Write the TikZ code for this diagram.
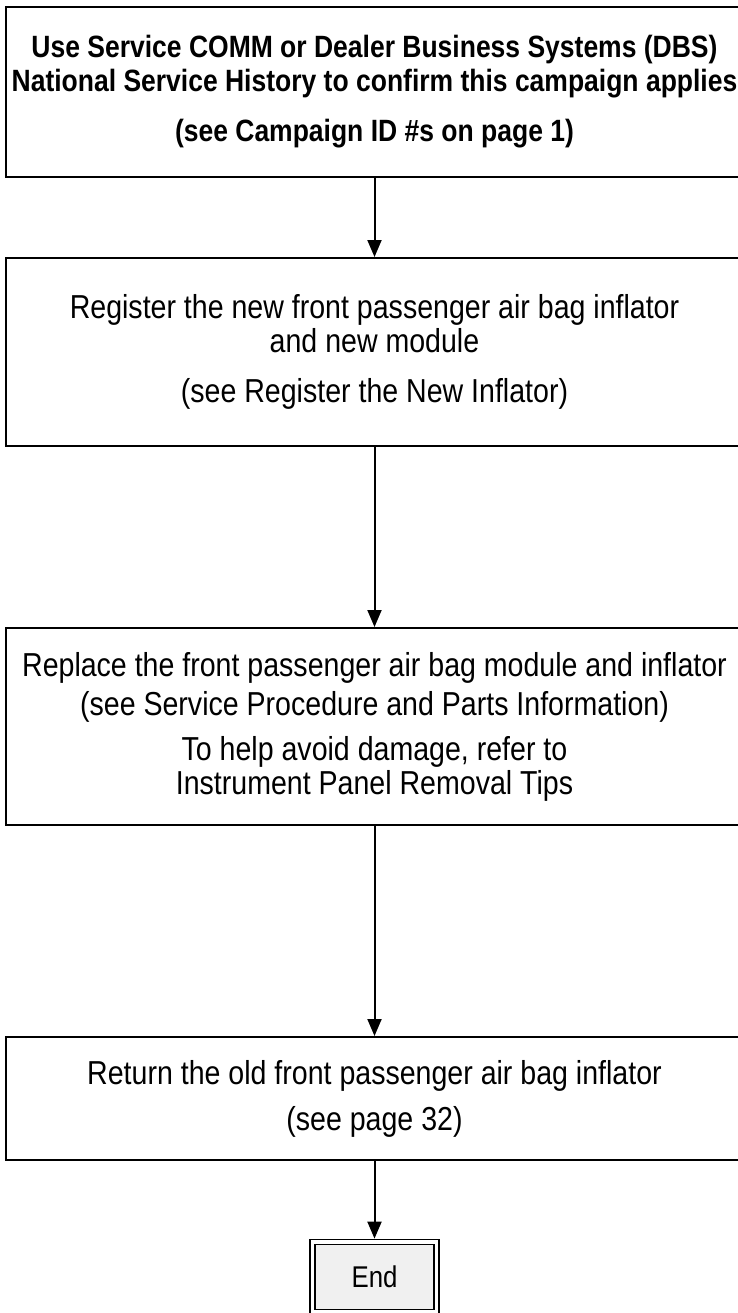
\documentclass[tikz,border=0pt]{standalone}
\usepackage{fontspec}
\setmainfont{Liberation Sans}[FakeStretch=0.86]
\usetikzlibrary{arrows.meta,positioning}
\definecolor{endgray}{HTML}{F0F0F0}
\tikzset{
    stepbox/.style={draw, line width=1pt, minimum width=369pt, inner sep=0pt,
        align=center, font=\fontsize{16.6}{17}\selectfont},
    flowarrow/.style={line width=1pt, -{Triangle[width=7pt,length=8.5pt]}},
    endbox/.style={draw, double, double distance=1.6pt, line width=0.9pt,
        fill=endgray, minimum width=62pt, minimum height=35pt, outer sep=1.7pt,
        font=\fontsize{15}{17}\selectfont},
}
\begin{document}
\begin{tikzpicture}[x=0.5pt, y=-0.5pt]
        \useasboundingbox (0,0) rectangle (738,1313);
        \node[stepbox, minimum height=85pt, font=\fontsize{15.4}{17}\selectfont\bfseries]
            (confirm) at (374.5,92)
            {Use Service COMM or Dealer Business Systems (DBS)\\
             National Service History to confirm this campaign applies\\[8pt]
             (see Campaign ID \#s on page 1)};
        \node[stepbox, minimum height=94pt] (register) at (374.5,352)
            {Register the new front passenger air bag inflator\\
             and new module\\[8pt]
             (see Register the New Inflator)};
        \node[stepbox, minimum height=98.5pt] (replace) at (374.5,726.5)
            {Replace the front passenger air bag module and inflator\\[2.5pt]
             (see Service Procedure and Parts Information)\\[5.5pt]
             To help avoid damage, refer to\\
             Instrument Panel Removal Tips};
        \node[stepbox, minimum height=61.5pt] (return) at (374.5,1098.5)
            {Return the old front passenger air bag inflator\\[6pt]
             (see page 32)};
        \node[endbox] (done) at (374.5,1277) {End};
        \draw[flowarrow] (confirm.south) -- (register.north);
        \draw[flowarrow] (register.south) -- (replace.north);
        \draw[flowarrow] (replace.south) -- (return.north);
        \draw[flowarrow] (return.south) -- (done.north);
\end{tikzpicture}
\end{document}
